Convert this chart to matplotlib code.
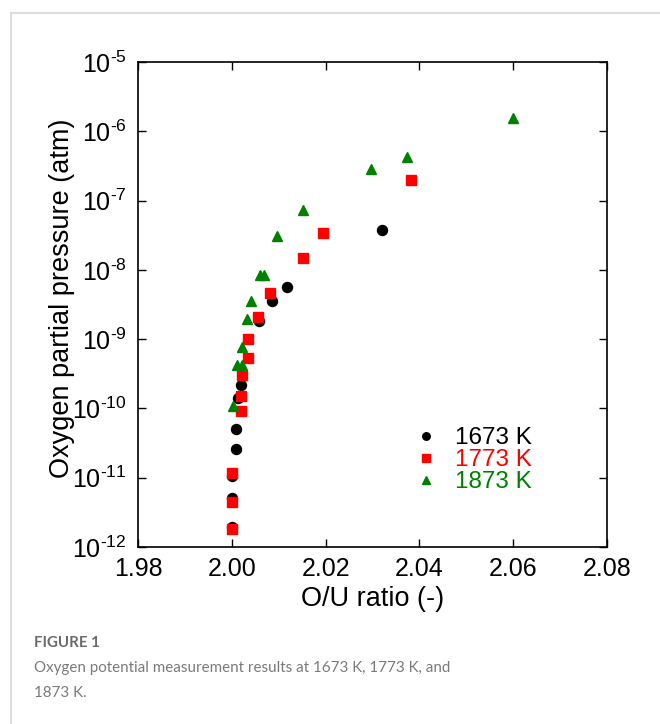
import matplotlib
matplotlib.use("Agg")
import matplotlib.pyplot as plt
from matplotlib.lines import Line2D
from matplotlib.ticker import FuncFormatter
import numpy as np

plt.rcParams['font.family'] = ['Liberation Sans', 'DejaVu Sans']
plt.rcParams['mathtext.fontset'] = 'custom'
plt.rcParams['mathtext.rm'] = 'Liberation Sans'
plt.rcParams['mathtext.it'] = 'Liberation Sans'

# 1673 K
ou_1673 = [2.0320, 2.0118, 2.0086, 2.0058, 2.0020, 2.0013, 2.0009, 2.0009, 2.0000, 2.0000, 2.0000]
po2_1673 = [3.8e-8, 5.6e-9, 3.5e-9, 1.8e-9, 2.2e-10, 1.4e-10, 5.0e-11, 2.6e-11, 1.07e-11, 5.1e-12, 1.95e-12]

# 1773 K
ou_1773 = [2.0382, 2.0194, 2.0152, 2.0082, 2.0056, 2.0034, 2.0034, 2.0022, 2.0020, 2.0020,
           2.0000, 2.0000, 2.0000]
po2_1773 = [2.0e-7, 3.4e-8, 1.5e-8, 4.6e-9, 2.1e-9, 1.0e-9, 5.4e-10, 3.0e-10, 1.5e-10, 9.2e-11,
            1.17e-11, 4.5e-12, 1.8e-12]

# 1873 K
ou_1873 = [2.0600, 2.0374, 2.0297, 2.0152, 2.0096, 2.0060, 2.0068, 2.0041, 2.0032, 2.0022,
           2.0011, 2.0022, 2.0003]
po2_1873 = [1.55e-6, 4.3e-7, 2.9e-7, 7.3e-8, 3.1e-8, 8.5e-9, 8.5e-9, 3.5e-9, 1.95e-9, 7.8e-10,
            4.3e-10, 4.3e-10, 1.1e-10]

x_ticks = [1.98, 2.00, 2.02, 2.04, 2.06, 2.08]
y_exps = list(range(-12, -4))

fig = plt.figure(figsize=(6.6, 7.24), dpi=100)
ax = fig.add_axes([0.2091, 0.2445, 0.7106, 0.6699])

ax.plot(ou_1673, po2_1673, 'o', color='black', ms=7.2, ls='none', label='1673 K')
ax.plot(ou_1773, po2_1773, 's', color='#ff0000', ms=7.0, ls='none', label='1773 K')
ax.plot(ou_1873, po2_1873, '^', color='#008000', ms=7.5, ls='none', label='1873 K')

ax.set_yscale('log')
ax.set_xlim(1.98, 2.08)
ax.set_ylim(1e-12, 1e-5)
ax.set_xticks(x_ticks)
ax.set_xticklabels(['%.2f' % v for v in x_ticks])
ax.set_yticks([10.0 ** e for e in y_exps])


def sci(v, pos):
    e = int(round(np.log10(v)))
    return r'$\mathregular{10^{\text{-}%d}}$' % abs(e)


ax.yaxis.set_major_formatter(FuncFormatter(sci))
ax.minorticks_off()
ax.tick_params(direction='in', length=6, width=1, top=True, right=True,
               labelsize=18, pad=7)
ax.tick_params(axis='y', pad=8)
for s in ax.spines.values():
    s.set_linewidth(1.2)

ax.set_xlabel('O/U ratio (-)', fontsize=19.5)
ax.set_ylabel('Oxygen partial pressure (atm)', fontsize=19.5)
ax.xaxis.set_label_coords(0.5, -0.08)
ax.yaxis.set_label_coords(-0.135, 0.513)

ax.legend(loc='center left', bbox_to_anchor=(0.594, 0.179), frameon=False,
          fontsize=17.5, handlelength=0.8, handletextpad=0.78, markerscale=0.75,
          borderpad=0, borderaxespad=0, labelspacing=0.0, labelcolor='markerfacecolor')

# figure frame lines
fig.add_artist(Line2D([11 / 660, 1], [1 - 13 / 724, 1 - 13 / 724], color='#dddddd', lw=1.5))
fig.add_artist(Line2D([11 / 660, 11 / 660], [0, 1 - 13 / 724], color='#dddddd', lw=1.5))

cap = ['Lato', 'DejaVu Sans']
fig.text(34 / 660, 1 - 643 / 724, 'FIGURE 1', family=cap, fontsize=10.8, fontweight='bold',
         color='#6a6a6a', va='center')
fig.text(34 / 660, 1 - 668 / 724, 'Oxygen potential measurement results at 1673 K, 1773 K, and',
         family=cap, fontsize=10.9, color='#7a7a7a', va='center')
fig.text(34 / 660, 1 - 693 / 724, '1873 K.', family=cap, fontsize=10.9, color='#7a7a7a', va='center')

fig.savefig('out.png', dpi=100)
